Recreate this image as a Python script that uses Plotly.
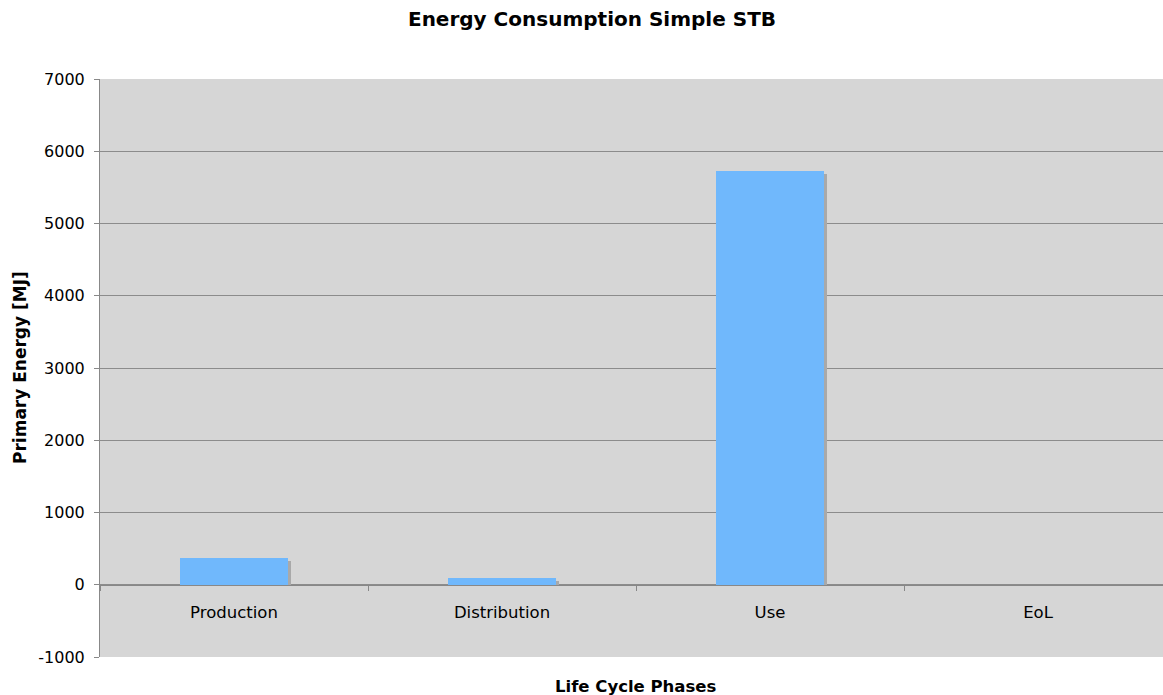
import plotly.graph_objects as go

# Life cycle phases and primary energy per phase (MJ)
phases = ["Production", "Distribution", "Use", "EoL"]
energy_mj = [370, 95, 5730, 0]
y_ticks = [-1000, 0, 1000, 2000, 3000, 4000, 5000, 6000, 7000]

W, H = 1163, 695
M_L, M_R, M_T, M_B = 100, 0, 79, 38
Y_MIN, Y_MAX = -1000, 7000

plot_h = H - M_T - M_B
plot_w = W - M_L - M_R
# the category axis runs a little past the right edge of the page
CAT_PX = 268
x_range = [-0.5, -0.5 + plot_w / CAT_PX]
units_per_px = (Y_MAX - Y_MIN) / plot_h
cat_per_px = 1 / CAT_PX

BAR_W = 0.4
SHADOW_PX = 3

font = "DejaVu Sans, Verdana, sans-serif"

fig = go.Figure()

# soft drop shadow behind each bar
fig.add_trace(go.Bar(
    x=phases,
    y=[max(v - SHADOW_PX * units_per_px, 0) for v in energy_mj],
    width=BAR_W,
    offset=-BAR_W / 2 + SHADOW_PX * cat_per_px,
    marker=dict(color="#a9a9a9", line=dict(width=0)),
    hoverinfo="skip",
    showlegend=False,
))

fig.add_trace(go.Bar(
    x=phases,
    y=energy_mj,
    width=BAR_W,
    offset=-BAR_W / 2,
    marker=dict(color="#70b8fc", line=dict(width=0)),
    showlegend=False,
))

fig.update_layout(
    width=W, height=H,
    margin=dict(l=M_L, r=M_R, t=M_T, b=M_B),
    paper_bgcolor="white",
    plot_bgcolor="#d6d6d6",
    barmode="overlay",
    bargap=0,
    font=dict(family=font, size=16, color="black"),
    title=dict(
        text="<b>Energy Consumption Simple STB</b>",
        x=592 / W, xanchor="center", y=1 - 19 / H, yanchor="middle",
        font=dict(family=font, size=20, color="black"),
    ),
    xaxis=dict(
        type="category",
        anchor="free",
        position=(0 - Y_MIN) / (Y_MAX - Y_MIN),
        showline=True, linecolor="#888888", linewidth=1,
        ticks="outside", tickson="boundaries", ticklen=5, tickcolor="#888888",
        ticklabelstandoff=12,
        showgrid=False,
        tickfont=dict(family=font, size=16.5),
        range=x_range,
    ),
    yaxis=dict(
        range=[Y_MIN, Y_MAX],
        tickvals=y_ticks,
        ticktext=[str(v) for v in y_ticks],
        showline=True, linecolor="#888888", linewidth=1,
        ticks="outside", ticklen=5, tickcolor="#888888",
        ticklabelstandoff=6,
        showgrid=True, gridcolor="#8c8c8c", gridwidth=1,
        zeroline=False,
        tickfont=dict(family=font, size=16),
    ),
    annotations=[
        dict(text="<b>Primary Energy [MJ]</b>", xref="paper", yref="paper",
             x=(20 - M_L) / plot_w, y=(H - M_B - 368) / plot_h,
             xanchor="center", yanchor="middle", textangle=-90, showarrow=False,
             font=dict(family=font, size=17, color="black")),
        dict(text="<b>Life Cycle Phases</b>", xref="paper", yref="paper",
             x=(636 - M_L) / plot_w, y=-(686 - (H - M_B)) / plot_h,
             xanchor="center", yanchor="middle", showarrow=False,
             font=dict(family=font, size=16.5, color="black")),
    ],
)

fig.write_html("out.html")
